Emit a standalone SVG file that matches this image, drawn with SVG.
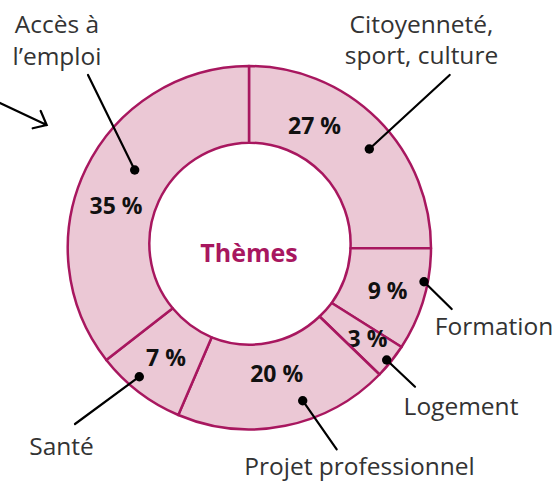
<svg xmlns="http://www.w3.org/2000/svg" width="558" height="482" viewBox="0 0 558 482">
<style>
.seg{fill:#ebc8d5;stroke:#a8175f;stroke-width:2.5;stroke-linejoin:round}
.pct{font-family:"Open Sans","Liberation Sans",sans-serif;font-weight:bold;font-size:23px;fill:#111;text-anchor:middle}
.lab{font-family:"Open Sans","Liberation Sans",sans-serif;font-size:24.5px;fill:#333;text-anchor:middle}
.title{font-family:"Open Sans","Liberation Sans",sans-serif;font-weight:bold;font-size:25px;fill:#a8175f;text-anchor:middle}
.lead{stroke:#000;stroke-width:2.2;fill:none;stroke-linecap:round}
.dot{fill:#000}
</style>
<rect width="558" height="482" fill="#fff"/>
<g id="citoyennete">
<path class="seg" d="M249,66 A182,182 0 0 1 431,248.3 L350.5,248.3 A101,101 0 0 0 249,142.7 Z"/>
<text class="pct" x="314.5" y="134">27 %</text>
<text class="lab" x="421.5" y="32.5">Citoyenneté,</text>
<text class="lab" x="421.5" y="63.5">sport, culture</text>
</g>
<g id="formation">
<path class="seg" d="M431,248.3 A182,182 0 0 1 401.5,347 L331.7,303 A101,101 0 0 0 350.5,248.3 Z"/>
<text class="pct" x="387.6" y="299">9 %</text>
<text class="lab" x="494" y="335">Formation</text>
</g>
<g id="logement">
<path class="seg" d="M401.5,347 A182,182 0 0 1 379.5,374.5 L319.5,316.5 A101,101 0 0 0 331.7,303 Z"/>
<text class="pct" x="367.5" y="347">3 %</text>
<text class="lab" x="461" y="415">Logement</text>
</g>
<g id="projet">
<path class="seg" d="M379.5,374.5 A182,182 0 0 1 178.3,415 L211.7,337.3 A101,101 0 0 0 319.5,316.5 Z"/>
<text class="pct" x="276.7" y="382">20 %</text>
<text class="lab" x="359.5" y="475">Projet professionnel</text>
</g>
<g id="sante">
<path class="seg" d="M178.3,415 A182,182 0 0 1 106.3,360 L172.7,308.3 A101,101 0 0 0 211.7,337.3 Z"/>
<text class="pct" x="166" y="366">7 %</text>
<text class="lab" x="61.5" y="455">Santé</text>
</g>
<g id="acces">
<path class="seg" d="M106.3,360 A182,182 0 0 1 249,66 L249,142.7 A101,101 0 0 0 172.7,308.3 Z"/>
<text class="pct" x="116" y="214">35 %</text>
<text class="lab" x="57" y="32.5">Accès à</text>
<text class="lab" x="57" y="65">l’emploi</text>
</g>
<g id="centre">
<text class="title" x="249" y="261.5">Thèmes</text>
</g>
<g id="connectors">
<path class="lead" d="M88,75 L134.7,170"/>
<circle class="dot" cx="134.7" cy="170" r="4.7"/>
<path class="lead" d="M449.7,75 L369.3,149"/>
<circle class="dot" cx="369.3" cy="149" r="4.7"/>
<path class="lead" d="M424,281.7 L451.7,309"/>
<circle class="dot" cx="424" cy="281.7" r="4.7"/>
<path class="lead" d="M386.7,360 L415,386.7"/>
<circle class="dot" cx="386.7" cy="360" r="4.7"/>
<path class="lead" d="M139.3,376.7 L75,424"/>
<circle class="dot" cx="139.3" cy="376.7" r="4.7"/>
<path class="lead" d="M302.7,400.7 L336.7,449.3"/>
<circle class="dot" cx="302.7" cy="400.7" r="4.7"/>
<path class="lead" d="M0,103 L46.7,125 M32.7,128.3 L46.7,125 L40.7,111"/>
</g>
</svg>
